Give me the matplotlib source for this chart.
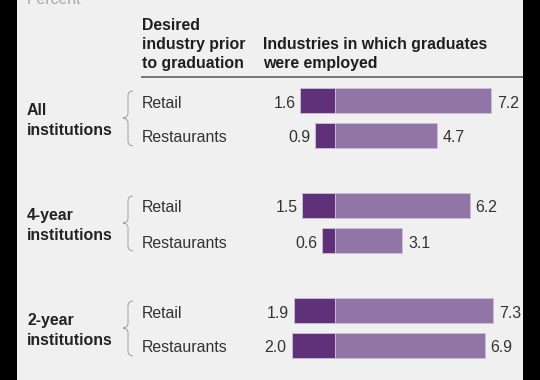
import matplotlib
matplotlib.use("Agg")
import matplotlib.pyplot as plt
from matplotlib.patches import Rectangle, PathPatch
from matplotlib.path import Path

# ---- data ----
groups = ["All\ninstitutions", "4-year\ninstitutions", "2-year\ninstitutions"]
industries = ["Retail", "Restaurants"]
desired = [[1.6, 0.9], [1.5, 0.6], [1.9, 2.0]]      # desired industry prior to graduation (%)
employed = [[7.2, 4.7], [6.2, 3.1], [7.3, 6.9]]     # industries in which graduates were employed (%)

header_left = ["Desired", "industry prior", "to graduation"]
header_right = ["Industries in which graduates", "were employed"]
unit_label = "Percent"

# ---- layout (pixels) ----
W, H = 540, 380
ZERO_PX = 335.0     # x pixel of the 0 line
SCALE = 21.7        # pixels per percentage point
ROW0 = 100.5        # y pixel of the first bar centre
ROW_PX = 35.0       # pixels per row unit

FONT = "Liberation Sans"
FS = 11.4
DARK = "#5f3179"
LIGHT = "#9075a6"
EDGE = "#cdbfd9"

fig = plt.figure(figsize=(W / 100, H / 100), dpi=100, facecolor="#f0f0f0")
ax = fig.add_axes([0, 0, 1, 1])
ax.set_facecolor("none")
ax.axis("off")
ax.set_xlim(-ZERO_PX / SCALE, (W - ZERO_PX) / SCALE)
ax.set_ylim((H - ROW0) / ROW_PX, -ROW0 / ROW_PX)


def px(x):
    return (x - ZERO_PX) / SCALE


def py(y):
    return (y - ROW0) / ROW_PX


# bars
ys, d_vals, e_vals = [], [], []
for g in range(len(groups)):
    for r in range(len(industries)):
        ys.append(3 * g + r)
        d_vals.append(desired[g][r])
        e_vals.append(employed[g][r])

bh = 25 / ROW_PX
ax.barh(ys, [-v for v in d_vals], height=bh, color=DARK, edgecolor=EDGE, linewidth=0.6)
ax.barh(ys, e_vals, height=bh, color=LIGHT, edgecolor=EDGE, linewidth=0.6)

txt_off = 7.0 / ROW_PX
for y, d, e in zip(ys, d_vals, e_vals):
    ax.text(-d - 5 / SCALE, y + txt_off, f"{d:.1f}", ha="right", va="baseline",
            fontsize=FS, family=FONT, color="#333333")
    ax.text(e + 6 / SCALE, y + txt_off, f"{e:.1f}", ha="left", va="baseline",
            fontsize=FS, family=FONT, color="#333333")

# row labels, group labels and braces
for g, name in enumerate(groups):
    for r, ind in enumerate(industries):
        ax.text(px(142), 3 * g + r + txt_off, ind, ha="left", va="baseline",
                fontsize=FS, family=FONT, color="#333333")
    mid = 3 * g + 0.5
    lines = name.split("\n")
    ax.text(px(27), mid - 3.3 / ROW_PX, lines[0], ha="left", va="baseline",
            fontsize=FS, family=FONT, fontweight="bold", color="#222222")
    ax.text(px(27), mid + 16.7 / ROW_PX, lines[1], ha="left", va="baseline",
            fontsize=FS, family=FONT, fontweight="bold", color="#222222")
    # curly brace
    top = mid - 27 / ROW_PX
    bot = mid + 28 / ROW_PX
    xr, xm, xl = px(133), px(128), px(123)
    c = 5 / ROW_PX
    verts = [(xr, top), (xm, top), (xm, top + c),
             (xm, mid - c),
             (xm, mid), (xl, mid), (xl, mid),
             (xl, mid), (xm, mid), (xm, mid + c),
             (xm, bot - c),
             (xm, bot), (xr, bot), (xr, bot)]
    codes = [Path.MOVETO, Path.CURVE3, Path.CURVE3,
             Path.LINETO,
             Path.CURVE4, Path.CURVE4, Path.CURVE4,
             Path.CURVE4, Path.CURVE4, Path.CURVE4,
             Path.LINETO,
             Path.CURVE4, Path.CURVE4, Path.CURVE4]
    ax.add_patch(PathPatch(Path(verts, codes), facecolor="none", edgecolor="#a0a0a0",
                           linewidth=0.7, clip_on=False))

# headers
for i, t in enumerate(header_left):
    ax.text(px(142), py(30 + 19 * i), t, ha="left", va="baseline",
            fontsize=FS, family=FONT, fontweight="bold", color="#1e1e1e")
for i, t in enumerate(header_right):
    ax.text(px(263), py(49 + 19 * i), t, ha="left", va="baseline",
            fontsize=FS, family=FONT, fontweight="bold", color="#1e1e1e")
ax.plot([px(141), px(523)], [py(77), py(77)], color="#555555", linewidth=1.1,
        solid_capstyle="butt", clip_on=False)

ax.text(px(27), py(4), unit_label, ha="left", va="baseline", fontsize=FS,
        family=FONT, color="#a8a8a8", clip_on=False)

# black side strips
fig.patches.append(Rectangle((0, 0), 17 / W, 1, transform=fig.transFigure,
                             facecolor="black", edgecolor="none", zorder=10))
fig.patches.append(Rectangle((523 / W, 0), 17 / W, 1, transform=fig.transFigure,
                             facecolor="black", edgecolor="none", zorder=10))

fig.savefig("out.png", dpi=100, facecolor=fig.get_facecolor())
